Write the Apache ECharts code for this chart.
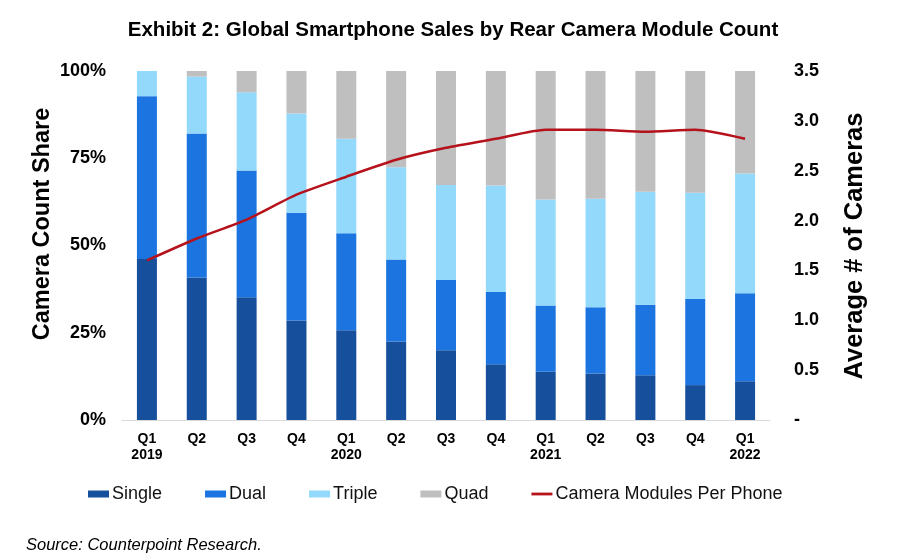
<!DOCTYPE html>
<html><head><meta charset="utf-8">
<script src="https://cdn.jsdelivr.net/npm/echarts@6/dist/echarts.min.js"></script>
<style>html,body{margin:0;padding:0;background:#fff}#c{width:900px;height:560px}</style>
</head><body><div id="c"></div>
<script>
const categories = ['Q1\n2019','Q2','Q3','Q4','Q1\n2020','Q2','Q3','Q4','Q1\n2021','Q2','Q3','Q4','Q1\n2022'];
const single = [46.1, 40.8, 35.2, 28.5, 25.7, 22.5, 20.0, 16.0, 13.8, 13.3, 12.8, 10.0, 11.1];
const dual   = [46.7, 41.3, 36.3, 30.9, 27.8, 23.5, 20.1, 20.7, 19.0, 19.0, 20.2, 24.7, 25.2];
const triple = [7.2, 16.3, 22.4, 28.4, 27.1, 26.4, 27.2, 30.5, 30.4, 31.1, 32.4, 30.4, 34.3];
const quad   = [0.0, 1.6, 6.1, 12.2, 19.4, 27.6, 32.7, 32.8, 36.8, 36.6, 34.6, 34.9, 29.4];
const modulesPerPhone = [1.60, 1.82, 2.01, 2.26, 2.44, 2.61, 2.73, 2.82, 2.91, 2.91, 2.89, 2.91, 2.82];
const leftTicks = ['0%','25%','50%','75%','100%'];

const FONT = 'Liberation Sans, Arial, sans-serif';
const chart = echarts.init(document.getElementById('c'));
const barSeries = (name, data, color) => ({
  name, type: 'bar', stack: 'share', data, barWidth: 20,
  itemStyle: { color }, emphasis: { disabled: true }
});
chart.setOption({
  animation: false,
  textStyle: { fontFamily: FONT },
  title: {
    text: 'Exhibit 2: Global Smartphone Sales by Rear Camera Module Count',
    left: 448, top: 15, textAlign: 'center',
    textStyle: { fontSize: 20.5, fontWeight: 'bold', color: '#000', fontFamily: FONT }
  },
  grid: { left: 122, right: 130, top: 71, bottom: 140, containLabel: false },
  legend: {
    left: 88, top: 485, padding: 0, itemWidth: 21, itemHeight: 7, itemGap: 43,
    textStyle: { fontSize: 18, color: '#111', fontFamily: FONT, padding: [0, 0, 0, -2] },
    data: [
      { name: 'Single', icon: 'rect' },
      { name: 'Dual', icon: 'rect' },
      { name: 'Triple', icon: 'rect' },
      { name: 'Quad', icon: 'rect' },
      { name: 'Camera Modules Per Phone', icon: 'path://M0,0L24,0L24,3.2L0,3.2Z' }
    ]
  },
  graphic: [{
    type: 'text', left: 26, top: 537,
    style: { text: 'Source: Counterpoint Research.', font: 'italic 16.5px ' + FONT, fill: '#000' }
  }, {
    type: 'text', x: 43, y: 224, rotation: Math.PI / 2,
    style: { text: 'Camera Count Share', font: 'bold 23.5px ' + FONT, fill: '#000', align: 'center', verticalAlign: 'middle' }
  }, {
    type: 'text', x: 855, y: 246, rotation: Math.PI / 2,
    style: { text: 'Average # of Cameras', font: 'bold 25.5px ' + FONT, fill: '#000', align: 'center', verticalAlign: 'middle' }
  }],
  xAxis: {
    type: 'category', data: categories,
    axisLine: { lineStyle: { color: '#d9d9d9', width: 1 } },
    axisTick: { show: false },
    axisLabel: { fontSize: 14, fontWeight: 'bold', color: '#000', margin: 11, lineHeight: 16, interval: 0 }
  },
  yAxis: [{
    type: 'value', min: 0, max: 100, interval: 25, position: 'left',
    splitLine: { show: false }, axisLine: { show: false }, axisTick: { show: false },
    axisLabel: { fontSize: 18, fontWeight: 'bold', color: '#000', margin: 16,
      formatter: v => leftTicks[Math.round(v / 25)] }
  }, {
    type: 'value', min: 0, max: 3.5, interval: 0.5, position: 'right',
    splitLine: { show: false }, axisLine: { show: false }, axisTick: { show: false },
    axisLabel: { fontSize: 18, fontWeight: 'bold', color: '#000', margin: 24,
      formatter: v => v === 0 ? '-' : v.toFixed(1) }
  }],
  series: [
    barSeries('Single', single, '#164f9c'),
    barSeries('Dual', dual, '#1b74e0'),
    barSeries('Triple', triple, '#93d9fb'),
    barSeries('Quad', quad, '#bfbfbf'),
    {
      name: 'Camera Modules Per Phone', type: 'line', yAxisIndex: 1, data: modulesPerPhone,
      symbol: 'none', smooth: 0.2, lineStyle: { color: '#b5121b', width: 2.5 },
      itemStyle: { color: '#b5121b' }, emphasis: { disabled: true }
    }
  ]
});
</script></body></html>
